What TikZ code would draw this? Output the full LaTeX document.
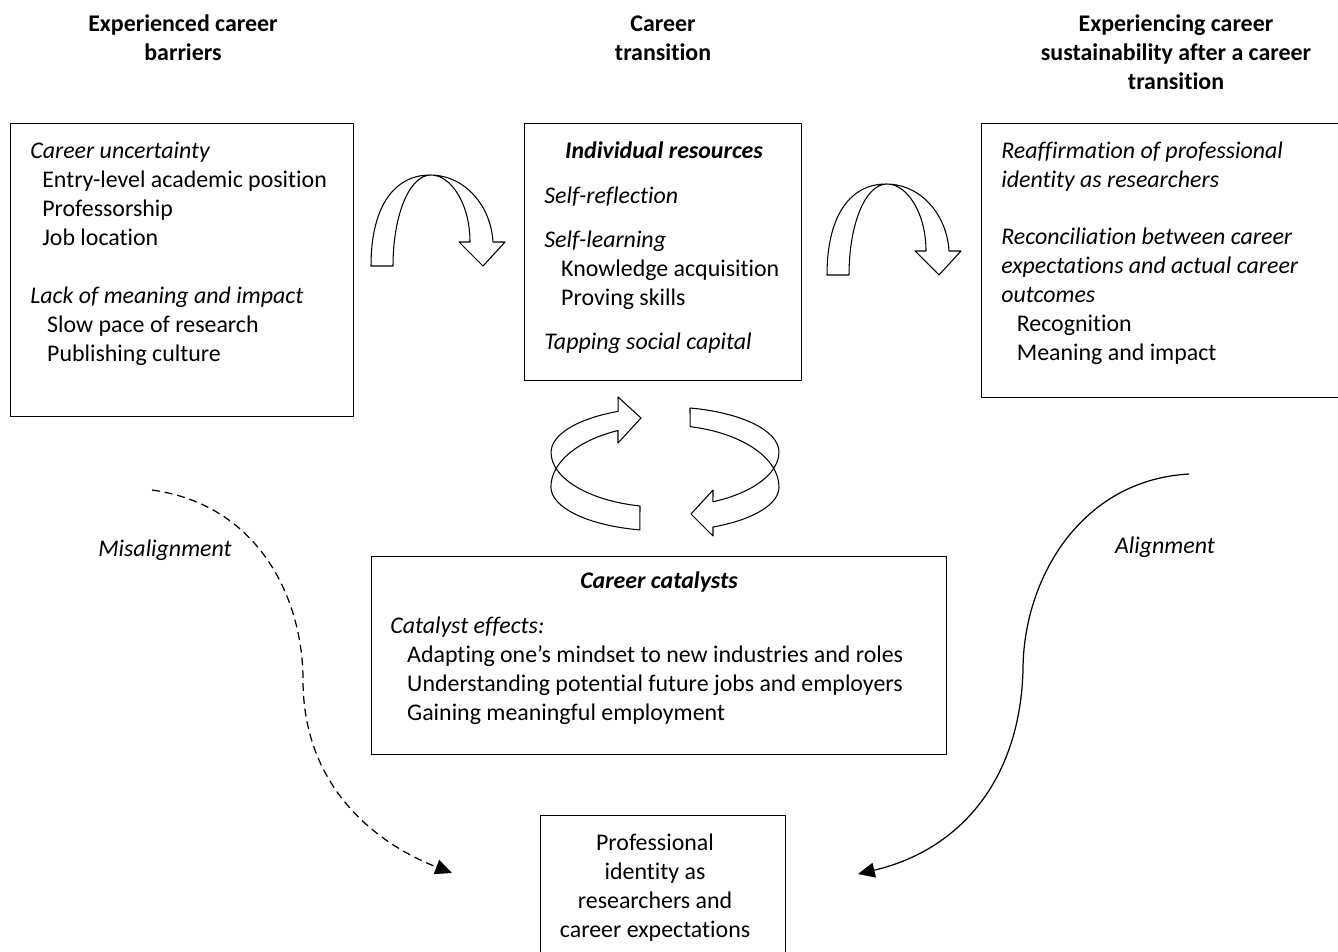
\documentclass[tikz,border=0pt]{standalone}
\usepackage{fontspec}
\setmainfont{Carlito}[Ligatures=NoCommon]
\usetikzlibrary{arrows.meta,positioning}
\newcommand{\figfont}{\fontsize{13.6}{16.44}\selectfont}
\newcommand{\ind}[1]{\hspace*{#1}}
\tikzset{
    panel/.style={draw, line width=0.8pt, inner sep=0pt, anchor=north west},
    body/.style={inner sep=0pt, align=left, anchor=base west, font=\figfont},
    head/.style={inner sep=0pt, align=center, anchor=base, font=\figfont\bfseries},
    title/.style={head, font=\figfont\bfseries\itshape},
    band/.style={draw, line width=0.6pt, fill=white, line join=round},
    flow/.style={line width=0.7pt, -{Triangle[length=9.5pt,width=8.5pt]}},
    pics/bend arrow/.style={code={
        \draw[band] (0,0) .. controls (0,-62) and (25,-91) .. (59,-91)
            .. controls (94,-91) and (120,-60) .. (122,-24)
            -- (134,-24) -- (112,0) -- (88,-24) -- (99,-24)
            .. controls (99,-62) and (80,-91) .. (60,-91)
            .. controls (38,-91) and (22,-50) .. (22,0) -- cycle;
    }},
}
\begin{document}
\begin{tikzpicture}[x=0.02cm, y=-0.02cm]
    \useasboundingbox (0,0) rectangle (1338,951);
    \clip (0,0) rectangle (1338,951);

    % column heads (base = last line)
    \node[head] (barriershead) at (183,60) {Experienced career\\barriers};
    \node[head] (transitionhead) at (663,60) {Career\\transition};
    \node[head] (sustainhead) at (1176,89) {Experiencing career\\sustainability after a career\\transition};

    % boxes
    \node[panel, minimum width=6.86cm, minimum height=5.86cm] (barriers) at (10,123) {};
    \node[panel, minimum width=5.54cm, minimum height=5.14cm] (resources) at (524,123) {};
    \node[panel, minimum width=7.38cm, minimum height=5.48cm] (outcomes) at (981,123) {};
    \node[panel, minimum width=11.5cm, minimum height=3.96cm] (catalysts) at (371,556) {};
    \node[panel, minimum width=4.9cm, minimum height=3.2cm] (identity) at (540,815) {};

    \node[body] (barrierstext) at (30,361) {\textit{Career uncertainty}\\
        \ind{6.8pt}Entry-level academic position\\
        \ind{6.8pt}Professorship\\
        \ind{6.8pt}Job location\\[16.44pt]
        \textit{Lack of meaning and impact}\\
        \ind{9.6pt}Slow pace of research\\
        \ind{9.6pt}Publishing culture};

    \node[title] (resourcestitle) at (664,158) {Individual resources};
    \node[body] (resourcestext) at (544,349) {\textit{Self-reflection}\\[8.5pt]
        \textit{Self-learning}\\
        \ind{9.6pt}Knowledge acquisition\\
        \ind{9.6pt}Proving skills\\[8.5pt]
        \textit{Tapping social capital}};

    \node[body] (outcomestext) at (1001,360) {\textit{Reaffirmation of professional}\\
        \textit{identity as researchers}\\[16pt]
        \textit{Reconciliation between career}\\
        \textit{expectations and actual career}\\
        \textit{outcomes}\\
        \ind{8.8pt}Recognition\\
        \ind{8.8pt}Meaning and impact};

    \node[title] (catalyststitle) at (659,588) {Career catalysts};
    \node[body] (catalyststext) at (390,720) {\textit{Catalyst effects:}\\
        \ind{9.6pt}Adapting one’s mindset to new industries and roles\\
        \ind{9.6pt}Understanding potential future jobs and employers\\
        \ind{9.6pt}Gaining meaningful employment};

    \node[body, align=center, anchor=base] (identitytext) at (655,937) {Professional\\identity as\\researchers and\\career expectations};

    \node[body, anchor=base] (mislabel) at (165,556) {\textit{Misalignment}};
    \node[body, anchor=base] (alignlabel) at (1165,553) {\textit{Alignment}};

    % bent arrows between the top boxes
    \pic at (371,266) {bend arrow};
    \pic at (827,275) {bend arrow};

    % turning arrows between resources and catalysts
    \draw[band] (640,506)
        arc[start angle=102.7, end angle=180, x radius=114, y radius=55]
        arc[start angle=180, end angle=245.7, x radius=114, y radius=45]
        -- (618,397) -- (641,418) -- (618,443) -- (618,430.5)
        arc[start angle=245.7, end angle=180, x radius=114, y radius=62]
        arc[start angle=180, end angle=102.7, x radius=114, y radius=44]
        -- cycle;
    \draw[band] (690,408)
        arc[start angle=282.7, end angle=360, x radius=114, y radius=45]
        arc[start angle=0, end angle=65.1, x radius=114, y radius=55]
        -- (713,490) -- (691,514) -- (713,536) -- (713,527)
        arc[start angle=65.1, end angle=0, x radius=114, y radius=44]
        arc[start angle=360, end angle=282.7, x radius=114, y radius=62]
        -- cycle;

    % feedback curves
    \coordinate (misfrom) at (152,490);
    \coordinate (misto) at (452,873);
    \coordinate (alfrom) at (1189,474);
    \coordinate (alto) at (858,874);
    \draw[flow, dash pattern=on 4.5pt off 2.8pt] (misfrom) .. controls (260,505) and (303,600) .. (303,680)
        .. controls (303,790) and (380,845) .. (misto);
    \draw[flow] (alfrom) .. controls (1080,480) and (1023,580) .. (1023,670)
        .. controls (1020,780) and (960,850) .. (alto);
\end{tikzpicture}
\end{document}
